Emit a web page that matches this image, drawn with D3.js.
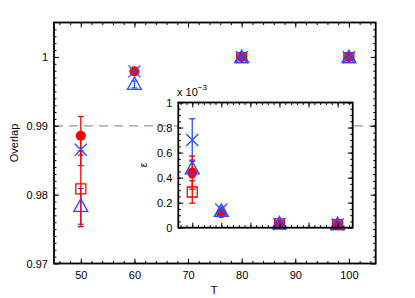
<!DOCTYPE html>
<html>
<head>
<meta charset="utf-8">
<script src="https://cdn.jsdelivr.net/npm/d3@7"></script>
<style>
  body { margin: 0; background: #fff; }
  svg { display: block; font-family: "Liberation Sans", Arial, sans-serif; }
  .tick text { font-size: 11px; fill: #000; }
  .domain { display: none; }
</style>
</head>
<body>
<div id="chart"></div>
<script>
// T values shared by every series
const temps = [50, 60, 80, 100]

// main plot: overlap (mean, error); null = no visible point
const overlapCircle = [0.98855, 0.99790, 0.99995, 0.99995]
const overlapCircleErr = [0.0028, 0.0002, 0.0001, 0.0001]
const overlapSquare = [0.98085, null, 0.99990, 0.99990]
const overlapSquareErr = [0.0055, 0, 0.0001, 0.0001]
const overlapCross = [0.98652, 0.99790, 0.99995, 0.99995]
const overlapCrossErr = [0.0023, 0.0002, 0.0001, 0.0001]
const overlapTri = [0.97830, 0.99600, 0.99990, 0.99990]
const overlapTriErr = [0.0026, 0.0005, 0.0001, 0.0001]

// inset: epsilon in units of 1e-3
const epsCircle = [0.44, 0.115, 0.03, 0.025]
const epsCircleErr = [0.133, 0.02, 0.005, 0.005]
const epsSquare = [0.285, null, 0.03, 0.025]
const epsSquareErr = [0.09, 0, 0.005, 0.005]
const epsCross = [0.70, 0.145, 0.03, 0.025]
const epsCrossErr = [0.17, 0.02, 0.005, 0.005]
const epsTri = [0.47, 0.13, 0.03, 0.025]
const epsTriErr = [0.07, 0.02, 0.005, 0.005]

const xTicks = [50, 60, 70, 80, 90, 100]
const yTicks = [0.97, 0.98, 0.99, 1]
const insetYTicks = [0, 0.2, 0.4, 0.6, 0.8, 1]
const refLine = 0.99

const red = '#ff0000'
const blue = '#2b4cff'

const W = 415, H = 298
const svg = d3.select('#chart').append('svg')
    .attr('width', W)
    .attr('height', H)

function frame(g, x, y, xt, yt, xMinor, yMinor, fmtX, fmtY) {
    const [x0, x1] = x.range()
    const [y0, y1] = y.range()
    const h = y0 - y1, w = x1 - x0
    // minor ticks, all four sides, pointing inward
    g.append('g').attr('transform', `translate(0,${y0})`)
        .call(d3.axisBottom(x).tickValues(xMinor).tickSizeInner(-2.5).tickSizeOuter(0).tickFormat(''))
    g.append('g').attr('transform', `translate(0,${y1})`)
        .call(d3.axisTop(x).tickValues(xMinor).tickSizeInner(-2.5).tickSizeOuter(0).tickFormat(''))
    g.append('g').attr('transform', `translate(${x0},0)`)
        .call(d3.axisLeft(y).tickValues(yMinor).tickSizeInner(-2.5).tickSizeOuter(0).tickFormat(''))
    g.append('g').attr('transform', `translate(${x1},0)`)
        .call(d3.axisRight(y).tickValues(yMinor).tickSizeInner(-2.5).tickSizeOuter(0).tickFormat(''))
    // major ticks
    g.append('g').attr('transform', `translate(0,${y0})`)
        .call(d3.axisBottom(x).tickValues(xt).tickSizeInner(-5).tickSizeOuter(0).tickPadding(8).tickFormat(fmtX))
    g.append('g').attr('transform', `translate(0,${y1})`)
        .call(d3.axisTop(x).tickValues(xt).tickSizeInner(-5).tickSizeOuter(0).tickFormat(''))
    g.append('g').attr('transform', `translate(${x0},0)`)
        .call(d3.axisLeft(y).tickValues(yt).tickSizeInner(-5).tickSizeOuter(0).tickPadding(6).tickFormat(fmtY))
    g.append('g').attr('transform', `translate(${x1},0)`)
        .call(d3.axisRight(y).tickValues(yt).tickSizeInner(-5).tickSizeOuter(0).tickFormat(''))
    g.selectAll('.tick line').attr('stroke', '#000').attr('stroke-width', 1)
    g.append('rect')
        .attr('x', x0).attr('y', y1).attr('width', w).attr('height', h)
        .attr('fill', 'none').attr('stroke', '#000').attr('stroke-width', 1.8)
}

function points(vals, errs) {
    return temps.map((t, i) => ({ t, v: vals[i], e: errs[i] })).filter(p => p.v != null)
}

function errbars(g, x, y, vals, errs, color) {
    const d = points(vals, errs)
    const eg = g.append('g').attr('stroke', color).attr('stroke-width', 1.3)
    eg.selectAll('line.v').data(d).join('line')
        .attr('x1', p => x(p.t)).attr('x2', p => x(p.t))
        .attr('y1', p => y(p.v - p.e)).attr('y2', p => y(p.v + p.e))
    eg.selectAll('line.top').data(d).join('line').attr('class', 'top')
        .attr('x1', p => x(p.t) - 3).attr('x2', p => x(p.t) + 3)
        .attr('y1', p => y(p.v + p.e)).attr('y2', p => y(p.v + p.e))
    eg.selectAll('line.bot').data(d).join('line').attr('class', 'bot')
        .attr('x1', p => x(p.t) - 3).attr('x2', p => x(p.t) + 3)
        .attr('y1', p => y(p.v - p.e)).attr('y2', p => y(p.v - p.e))
}

function markers(g, x, y, vals, errs, shape, color) {
    const d = points(vals, errs)
    const m = g.append('g').selectAll('path').data(d).join('path')
        .attr('transform', p => `translate(${x(p.t)},${y(p.v)})`)
        .attr('stroke', color).attr('stroke-width', 1.3)
    if (shape === 'circle') {
        m.attr('d', d3.symbol(d3.symbolCircle, 80)()).attr('fill', color).attr('stroke', 'none')
    } else if (shape === 'square') {
        m.attr('d', 'M-5,-5H5V5H-5Z').attr('fill', 'none')
    } else if (shape === 'cross') {
        m.attr('d', 'M-6,-6L6,6M-6,6L6,-6').attr('fill', 'none')
    } else {
        m.attr('d', 'M0,-7.5L7,5L-7,5Z').attr('fill', 'none')
    }
}

function drawAll(g, x, y, s) {
    errbars(g, x, y, s.tri, s.triErr, blue)
    errbars(g, x, y, s.cross, s.crossErr, blue)
    errbars(g, x, y, s.circle, s.circleErr, red)
    errbars(g, x, y, s.square, s.squareErr, red)
    markers(g, x, y, s.circle, s.circleErr, 'circle', red)
    markers(g, x, y, s.square, s.squareErr, 'square', red)
    markers(g, x, y, s.tri, s.triErr, 'tri', blue)
    markers(g, x, y, s.cross, s.crossErr, 'cross', blue)
}

// ---- main plot
const x = d3.scaleLinear().domain([45, 105]).range([54, 375.7])
const y = d3.scaleLinear().domain([0.97, 1.005]).range([263.5, 22.5])

const main = svg.append('g')
main.append('line')
    .attr('x1', x.range()[0]).attr('x2', x.range()[1])
    .attr('y1', y(refLine)).attr('y2', y(refLine))
    .attr('stroke', '#999').attr('stroke-width', 1.2).attr('stroke-dasharray', '9,6')

drawAll(main, x, y, {
    circle: overlapCircle, circleErr: overlapCircleErr,
    square: overlapSquare, squareErr: overlapSquareErr,
    cross: overlapCross, crossErr: overlapCrossErr,
    tri: overlapTri, triErr: overlapTriErr
})

frame(main, x, y, xTicks, yTicks, d3.range(46, 105, 2), d3.range(0.971, 1.005, 0.001),
    d3.format('d'), d => d === 1 ? '1' : d3.format('.2f')(d))

main.append('text').attr('x', 214).attr('y', 294).attr('text-anchor', 'middle')
    .attr('font-size', 11).text('T')
main.append('text').attr('transform', 'translate(18,143) rotate(-90)').attr('text-anchor', 'middle')
    .attr('font-size', 11).text('Overlap')

// ---- inset
const xi = d3.scaleLinear().domain([45.2, 105.2]).range([178.3, 352.7])
const yi = d3.scaleLinear().domain([0, 1]).range([227.7, 102.5])

const inset = svg.append('g')
inset.append('rect').attr('x', 178.3).attr('y', 102.5)
    .attr('width', 352.7 - 178.3).attr('height', 227.7 - 102.5).attr('fill', '#fff')

drawAll(inset, xi, yi, {
    circle: epsCircle, circleErr: epsCircleErr,
    square: epsSquare, squareErr: epsSquareErr,
    cross: epsCross, crossErr: epsCrossErr,
    tri: epsTri, triErr: epsTriErr
})

frame(inset, xi, yi, xTicks, insetYTicks, d3.range(46, 105, 2), d3.range(0.05, 1, 0.05),
    () => '', d => d === 0 || d === 1 ? String(d) : d3.format('.1f')(d))

const lbl = inset.append('text').attr('x', 177).attr('y', 95.5).attr('font-size', 11)
lbl.append('tspan').text('x 10')
lbl.append('tspan').attr('dy', -6).attr('font-size', 8).text('\u22123')

inset.append('text').attr('transform', 'translate(147,165) rotate(-90)').attr('text-anchor', 'middle')
    .attr('font-size', 10).text('ε')
</script>
</body>
</html>
